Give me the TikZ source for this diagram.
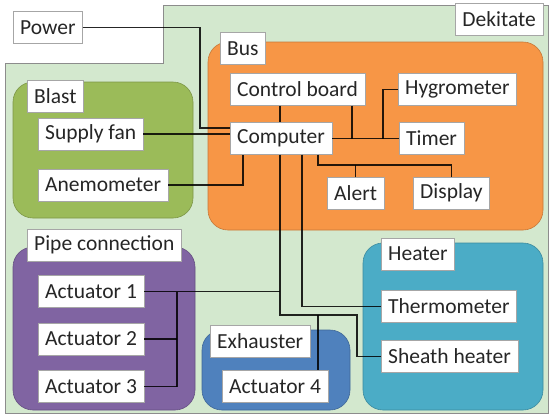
\documentclass[tikz,border=0pt]{standalone}
\usepackage{fontspec}
\setmainfont{Carlito}
\definecolor{bggreen}{HTML}{D3E8CE}
\definecolor{blastgreen}{HTML}{9BBB59}
\definecolor{busorange}{HTML}{F79646}
\definecolor{pipepurple}{HTML}{8064A2}
\definecolor{exhblue}{HTML}{4F81BD}
\definecolor{heatcyan}{HTML}{4BACC6}

\begin{document}
\begin{tikzpicture}[x=1pt,y=-1pt,
    box/.style={draw=black!35,fill=white,text=black!85,font=\fontsize{21.5}{25}\selectfont,minimum height=32pt,inner xsep=7pt,inner ysep=2pt},
    group/.style={fill=#1,draw=#1!80!black,line width=0.6pt,rounded corners=20pt},
    wire/.style={draw=black,draw opacity=0.85,line width=1.6pt}]
    \useasboundingbox (0,0) rectangle (551,416);
    \fill [bggreen,draw=black!45,line width=0.8pt] (163,5) -- (548,5) -- (548,413) -- (5,413) -- (5,63) -- (163,63) -- cycle;
    \path [group=busorange] (208,42) rectangle (543,230);
    \path [group=blastgreen] (13,82) rectangle (193,218);
    \path [group=pipepurple] (13,247) rectangle (195,410);
    \path [group=exhblue] (202,330) rectangle (350,410);
    \path [group=heatcyan] (363,243) rectangle (543,410);

    \node [box,anchor=west] (power) at (13,27.5) {Power};
    \node [box,anchor=east] (dekitate) at (543,19.5) {Dekitate};
    \node [box,anchor=west] (bus) at (220,48.5) {Bus};
    \node [box,anchor=west] (blast) at (27,96) {Blast};
    \node [box,anchor=west] (supplyfan) at (38,134) {Supply fan};
    \node [box,anchor=west] (anemometer) at (38,185) {Anemometer};
    \node [box,anchor=west] (controlboard) at (230,89.5) {Control board};
    \node [box,anchor=west] (hygrometer) at (398,89.5) {Hygrometer};
    \node [box,anchor=west] (computer) at (230,138.5) {Computer};
    \node [box,anchor=west] (timer) at (399,138.5) {Timer};
    \node [box,anchor=west] (alert) at (327,193) {Alert};
    \node [box,anchor=west] (display) at (413,193) {Display};
    \node [box,anchor=west] (pipe) at (27,245) {Pipe connection};
    \node [box,anchor=west] (act1) at (38,291.5) {Actuator 1};
    \node [box,below of=act1,node distance=47.5pt] (act2) {Actuator 2};
    \node [box,below of=act2,node distance=47.5pt] (act3) {Actuator 3};
    \node [box,anchor=west] (exhauster) at (210,341) {Exhauster};
    \node [box,anchor=west] (act4) at (222,386.5) {Actuator 4};
    \node [box,anchor=west] (heater) at (381,254) {Heater};
    \node [box,anchor=west] (thermometer) at (381,306.5) {Thermometer};
    \node [box,anchor=west] (sheath) at (381,356.5) {Sheath heater};

    \coordinate (pw) at (200,128);
    \coordinate (an) at (243,185);
    \coordinate (cb) at (352,138.5);
    \coordinate (hy) at (383,138.5);
    \coordinate (ad) at (318,165);
    \coordinate (th) at (302,306.5);
    \coordinate (sh1) at (280,315);
    \coordinate (sh2) at (357,315);
    \coordinate (a4) at (318,315);
    \coordinate (pj) at (177,291.5);

    \draw [wire] (power.east) -| (pw) -- (pw -| computer.west);
    \draw [wire] (supplyfan.east) -- (supplyfan.east -| computer.west);
    \draw [wire] (anemometer.east) -| (an |- computer.south);
    \draw [wire] (controlboard.south -| sh1) -- (computer.north -| sh1);
    \draw [wire] (computer.east) -- (timer.west);
    \draw [wire] (cb |- controlboard.south) -- (cb);
    \draw [wire] (hygrometer.west) -| (hy);
    \draw [wire] (ad |- computer.south) -- (ad) -| (display.north);
    \draw [wire] (alert.north) -- (alert.north |- ad);
    \draw [wire] (th |- computer.south) -- (th) -- (thermometer.west);
    \draw [wire] (computer.south -| sh1) -- (sh1) -- (sh2) |- (sheath.west);
    \draw [wire] (act1.east) -- (act1.east -| sh1);
    \draw [wire] (pj) -- (pj |- act3.east);
    \draw [wire] (act2.east) -- (act2.east -| pj);
    \draw [wire] (act3.east) -- (act3.east -| pj);
    \draw [wire] (a4) -- (a4 |- act4.north);
\end{tikzpicture}
\end{document}
